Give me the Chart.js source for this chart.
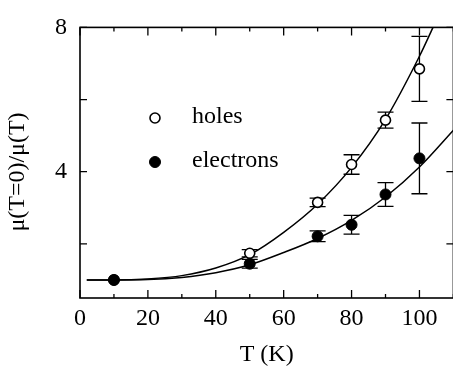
<!DOCTYPE html>
<html>
<head>
<meta charset="utf-8">
<script src="https://cdn.jsdelivr.net/npm/chart.js@4"></script>
<style>
  html, body { margin: 0; padding: 0; background: #fff; overflow: hidden; }
  #wrap { width: 460px; height: 370px; }
</style>
</head>
<body>
<div id="wrap"><canvas id="chart" width="460" height="370"></canvas></div>
<script>
// Dados medidos
const temps = [10, 50, 70, 80, 90, 100];
const holes = [1.0, 1.74, 3.15, 4.2, 5.43, 6.85];
const holesErr = [0, 0.1, 0.12, 0.27, 0.22, 0.9];
const electrons = [1.0, 1.45, 2.21, 2.53, 3.37, 4.37];
const electronsErr = [0, 0.12, 0.15, 0.26, 0.33, 0.98];

// Curvas de ajuste
const holesFitT = [2, 10, 20, 30, 40, 50, 60, 70, 80, 90, 100, 104];
const holesFit = [1.0, 1.0, 1.03, 1.12, 1.33, 1.7, 2.32, 3.1, 4.12, 5.45, 7.2, 8.0];
const electronsFitT = [2, 10, 20, 30, 40, 50, 60, 70, 80, 90, 100, 110];
const electronsFit = [1.0, 1.0, 1.01, 1.07, 1.2, 1.42, 1.76, 2.15, 2.65, 3.3, 4.13, 5.15];

// Eixos
const xTicks = [0, 20, 40, 60, 80, 100];
const xMinorTicks = [10, 30, 50, 70, 90, 110];
const yTicks = [2, 4, 6, 8];
const yLabeled = [4, 8];

const FONT = "'Liberation Serif', 'Times New Roman', serif";

function pts(xs, ys) {
  return xs.map((x, i) => ({ x: x, y: ys[i] }));
}

// Barras de erro, desenhadas antes dos pontos
const errorBars = {
  id: "errorBars",
  beforeDatasetsDraw(chart) {
    const ctx = chart.ctx;
    const x = chart.scales.x;
    const y = chart.scales.y;
    ctx.save();
    ctx.strokeStyle = "#000";
    ctx.lineWidth = 1.3;
    chart.data.datasets.forEach((ds) => {
      if (!ds.errors) return;
      ds.data.forEach((p, i) => {
        const e = ds.errors[i];
        if (!e) return;
        const px = x.getPixelForValue(p.x);
        const top = y.getPixelForValue(p.y + e);
        const bot = y.getPixelForValue(p.y - e);
        ctx.beginPath();
        ctx.moveTo(px, top);
        ctx.lineTo(px, bot);
        ctx.moveTo(px - 8, top);
        ctx.lineTo(px + 8, top);
        ctx.moveTo(px - 8, bot);
        ctx.lineTo(px + 8, bot);
        ctx.stroke();
      });
    });
    ctx.restore();
  },
};

// Moldura, ticks internos, titulo do eixo y e legenda
const frame = {
  id: "frame",
  afterDraw(chart) {
    const ctx = chart.ctx;
    const a = chart.chartArea;
    const x = chart.scales.x;
    const y = chart.scales.y;
    ctx.save();
    ctx.strokeStyle = "#000";
    ctx.lineWidth = 1.6;
    ctx.strokeRect(a.left, a.top, a.right - a.left, a.bottom - a.top);

    ctx.lineWidth = 1.3;
    ctx.beginPath();
    xTicks.concat(xMinorTicks).forEach((v) => {
      const px = x.getPixelForValue(v);
      const len = xTicks.includes(v) ? 8 : 4;
      ctx.moveTo(px, a.bottom);
      ctx.lineTo(px, a.bottom - len);
      ctx.moveTo(px, a.top);
      ctx.lineTo(px, a.top + len);
    });
    yTicks.forEach((v) => {
      const py = y.getPixelForValue(v);
      ctx.moveTo(a.left, py);
      ctx.lineTo(a.left + 7, py);
      ctx.moveTo(a.right, py);
      ctx.lineTo(a.right - 7, py);
    });
    ctx.stroke();

    // titulo do eixo y
    ctx.fillStyle = "#000";
    ctx.font = "24px " + FONT;
    ctx.textAlign = "center";
    ctx.textBaseline = "middle";
    ctx.translate(18, 172);
    ctx.rotate(-Math.PI / 2);
    ctx.fillText("\u03bc(T=0)/\u03bc(T)", 0, 0);
    ctx.restore();

    // legenda
    ctx.save();
    ctx.font = "24px " + FONT;
    ctx.textBaseline = "alphabetic";
    ctx.fillStyle = "#000";
    const items = [chart.data.datasets[0], chart.data.datasets[1]];
    const rows = [118, 162];
    items.forEach((ds, i) => {
      ctx.beginPath();
      ctx.arc(155, rows[i], ds.pointRadius, 0, Math.PI * 2);
      ctx.fillStyle = ds.backgroundColor;
      ctx.fill();
      ctx.lineWidth = ds.borderWidth;
      ctx.strokeStyle = "#000";
      ctx.stroke();
      ctx.fillStyle = "#000";
      ctx.fillText(ds.label, 192, rows[i] + 5);
    });
    ctx.restore();
  },
};

new Chart(document.getElementById("chart").getContext("2d"), {
  type: "scatter",
  data: {
    datasets: [
      {
        label: "holes",
        data: pts(temps, holes),
        errors: holesErr,
        backgroundColor: "#fff",
        borderColor: "#000",
        borderWidth: 1.6,
        pointRadius: 5,
        order: 1,
      },
      {
        label: "electrons",
        data: pts(temps, electrons),
        errors: electronsErr,
        backgroundColor: "#000",
        borderColor: "#000",
        borderWidth: 1,
        pointRadius: 5.5,
        order: 0,
      },
      {
        label: "holes fit",
        type: "line",
        data: pts(holesFitT, holesFit),
        borderColor: "#000",
        borderWidth: 1.5,
        pointRadius: 0,
        cubicInterpolationMode: "monotone",
        fill: false,
        order: 2,
      },
      {
        label: "electrons fit",
        type: "line",
        data: pts(electronsFitT, electronsFit),
        borderColor: "#000",
        borderWidth: 1.5,
        pointRadius: 0,
        cubicInterpolationMode: "monotone",
        fill: false,
        order: 2,
      },
    ],
  },
  options: {
    responsive: false,
    animation: false,
    layout: { padding: { top: 17, right: 5, left: 0, bottom: 0 } },
    plugins: {
      legend: { display: false },
      tooltip: { enabled: false },
    },
    scales: {
      x: {
        type: "linear",
        min: 0,
        max: 110,
        grid: { display: false, drawTicks: false },
        border: { display: false },
        afterBuildTicks: (s) => {
          s.ticks = xTicks.map((v) => ({ value: v }));
        },
        afterFit: (s) => {
          s.height = 72;
        },
        ticks: {
          color: "#000",
          padding: 6,
          maxRotation: 0,
          font: { family: FONT, size: 24 },
        },
        title: {
          display: true,
          text: "T (K)",
          color: "#000",
          padding: { top: 0, bottom: 1 },
          font: { family: FONT, size: 24 },
        },
      },
      y: {
        type: "linear",
        min: 0.5,
        max: 8,
        grid: { display: false, drawTicks: false },
        border: { display: false },
        afterBuildTicks: (s) => {
          s.ticks = yTicks.map((v) => ({ value: v }));
        },
        afterFit: (s) => {
          s.width = 80;
        },
        ticks: {
          color: "#000",
          padding: 13,
          font: { family: FONT, size: 24 },
          callback: (v) => (yLabeled.includes(v) ? String(v) : ""),
        },
      },
    },
  },
  plugins: [errorBars, frame],
});
</script>
</body>
</html>
